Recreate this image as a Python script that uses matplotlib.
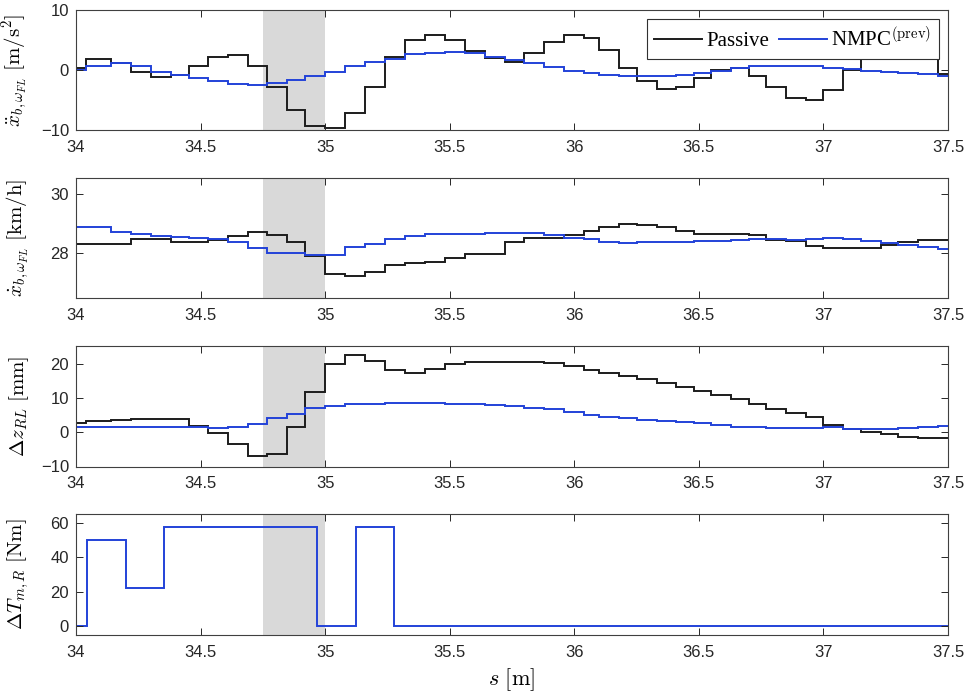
import matplotlib.pyplot as plt

plt.rcParams['font.family'] = ['Liberation Sans', 'DejaVu Sans']
plt.rcParams['mathtext.fontset'] = 'cm'

# step edges along the track [m] (shared by the first three signals)
s_edges = [34.00, 34.04, 34.14, 34.22, 34.30, 34.38, 34.455, 34.53, 34.61, 34.69,
           34.765, 34.845, 34.92, 35.00, 35.08, 35.16, 35.24, 35.32, 35.40, 35.48,
           35.56, 35.64, 35.72, 35.80, 35.88, 35.96, 36.04, 36.10, 36.18, 36.25,
           36.33, 36.41, 36.48, 36.55, 36.63, 36.70, 36.77, 36.85, 36.93, 37.00,
           37.08, 37.15, 37.23, 37.30, 37.38, 37.46, 37.50]

# longitudinal acceleration [m/s^2]
acc_passive = [0.3, 1.8, 1.1, -0.4, -1.2, -0.9, 0.7, 2.1, 2.5, 0.7,
               -2.9, -6.7, -9.4, -9.6, -7.1, -2.9, 2.1, 5.0, 5.9, 5.0,
               3.1, 2.0, 1.4, 2.9, 4.7, 5.8, 5.3, 3.3, 0.3, -1.9,
               -3.2, -2.9, -1.4, 0.0, 0.3, -1.0, -2.9, -4.7, -5.0, -3.3,
               0.0, 3.4, 3.8, 3.4, 2.2, -0.7]
acc_nmpc = [0.0, 0.6, 1.1, 0.6, -0.3, -0.8, -1.4, -1.9, -2.3, -2.5,
            -2.2, -1.7, -1.0, -0.3, 0.6, 1.4, 1.9, 2.6, 2.9, 3.05,
            2.9, 2.2, 1.7, 1.1, 0.5, -0.1, -0.5, -0.8, -1.0, -1.0,
            -1.0, -0.8, -0.5, -0.1, 0.3, 0.6, 0.7, 0.7, 0.6, 0.4,
            0.1, -0.1, -0.3, -0.5, -0.7, -1.0]

# speed [km/h]
vel_passive = [28.3, 28.3, 28.3, 28.48, 28.48, 28.36, 28.35, 28.42, 28.57, 28.69,
               28.6, 28.37, 27.88, 27.27, 27.2, 27.35, 27.58, 27.66, 27.69, 27.8,
               27.94, 27.97, 28.37, 28.49, 28.5, 28.6, 28.75, 28.88, 28.97, 28.96,
               28.86, 28.75, 28.64, 28.64, 28.64, 28.6, 28.42, 28.41, 28.23, 28.15,
               28.15, 28.17, 28.25, 28.35, 28.42, 28.43]
vel_nmpc = [28.86, 28.86, 28.7, 28.62, 28.57, 28.53, 28.51, 28.47, 28.37, 28.15,
            28.0, 28.0, 27.93, 27.93, 28.18, 28.3, 28.45, 28.58, 28.63, 28.64,
            28.65, 28.66, 28.68, 28.66, 28.6, 28.5, 28.45, 28.38, 28.34, 28.35,
            28.36, 28.37, 28.39, 28.41, 28.43, 28.45, 28.45, 28.44, 28.46, 28.49,
            28.45, 28.4, 28.34, 28.27, 28.2, 28.12]

# rear-left suspension deflection [mm]
dz_passive = [2.6, 3.4, 3.6, 3.8, 4.0, 3.8, 1.9, -0.1, -3.4, -6.8,
              -6.2, 1.5, 11.8, 20.0, 22.6, 20.8, 18.2, 17.3, 18.6, 20.1,
              20.6, 20.7, 20.6, 20.5, 20.2, 19.4, 18.2, 17.3, 16.5, 15.5,
              14.5, 13.2, 12.1, 10.9, 9.7, 8.3, 6.7, 5.6, 4.4, 2.3,
              0.9, 0.2, -0.5, -1.3, -1.6, -1.6]
dz_nmpc = [1.7, 1.7, 1.7, 1.6, 1.6, 1.5, 1.5, 1.2, 1.6, 2.5,
           4.2, 5.5, 7.0, 7.8, 8.2, 8.4, 8.5, 8.5, 8.5, 8.4,
           8.3, 8.0, 7.6, 7.2, 6.7, 6.0, 5.1, 4.6, 4.2, 3.6,
           3.2, 2.9, 2.6, 2.2, 1.7, 1.5, 1.3, 1.2, 1.3, 1.5,
           0.9, 1.0, 1.1, 1.3, 1.6, 1.9]

# rear torque difference [Nm]
torque_edges = [34.0, 34.046, 34.201, 34.353, 34.969, 35.122, 35.278, 37.5]
torque_nmpc = [0, 50, 22, 58, 0, 58, 0]

shade_start, shade_end = 34.75, 35.0
s_ticks = [34, 34.5, 35, 35.5, 36, 36.5, 37, 37.5]
s_tick_labels = ['34', '34.5', '35', '35.5', '36', '36.5', '37', '37.5']

BLACK = '#1c1c1c'
BLUE = '#2342d8'


def style_axis(ax, ylim, yticks, ylabel):
    ax.axvspan(shade_start, shade_end, color='#d9d9d9', lw=0, zorder=0)
    ax.set_xlim(34, 37.5)
    ax.set_ylim(*ylim)
    ax.set_yticks(yticks)
    ax.set_xticks(s_ticks)
    ax.set_xticklabels(s_tick_labels)
    ax.tick_params(direction='in', top=True, right=True, length=5, width=0.7,
                   labelsize=12, colors='#262626')
    ax.tick_params(axis='x', pad=7)
    ax.tick_params(axis='y', pad=5)
    for sp in ax.spines.values():
        sp.set_color('#404040')
        sp.set_linewidth(0.8)
    ax.set_ylabel(ylabel, fontsize=15)
    ax.yaxis.set_label_coords(-0.052, 0.5)


fig = plt.figure(figsize=(9.69, 6.96), dpi=100)
W, H = 969.0, 696.0
left, width = 76 / W, 872 / W
tops = [10, 178, 346, 514]
bottoms = [130, 298, 466.5, 635]
axes = [fig.add_axes([left, 1 - b / H, width, (b - t) / H]) for t, b in zip(tops, bottoms)]

ax1, ax2, ax3, ax4 = axes

h1 = ax1.stairs(acc_passive, s_edges, baseline=None, color=BLACK, lw=1.4, label='Passive')
h2 = ax1.stairs(acc_nmpc, s_edges, baseline=None, color=BLUE, lw=1.4,
                label=r'NMPC$^{\rm (prev)}$')
style_axis(ax1, (-10, 10), [-10, 0, 10], r'$\ddot{x}_{b,\omega_{FL}}\ [\mathrm{m/s^2}]$')
leg = ax1.legend(handles=[h1, h2], loc='upper right', ncol=2, fancybox=False,
                 framealpha=1, edgecolor='#303030', borderaxespad=0.45,
                 handlelength=2.3, columnspacing=0.5, handletextpad=0.2,
                 borderpad=0.35, prop={'family': 'Liberation Serif', 'size': 15})
leg.get_frame().set_linewidth(0.8)

ax2.stairs(vel_passive, s_edges, baseline=None, color=BLACK, lw=1.4)
ax2.stairs(vel_nmpc, s_edges, baseline=None, color=BLUE, lw=1.4)
style_axis(ax2, (26.45, 30.55), [28, 30], r'$\dot{x}_{b,\omega_{FL}}\ [\mathrm{km/h}]$')

ax3.stairs(dz_passive, s_edges, baseline=None, color=BLACK, lw=1.4)
ax3.stairs(dz_nmpc, s_edges, baseline=None, color=BLUE, lw=1.4)
style_axis(ax3, (-10, 25.3), [-10, 0, 10, 20], r'$\Delta z_{RL}\ [\mathrm{mm}]$')

ax4.stairs(torque_nmpc, torque_edges, baseline=None, color=BLUE, lw=1.4)
style_axis(ax4, (-5.3, 65.4), [0, 20, 40, 60], r'$\Delta T_{m,R}\ [\mathrm{Nm}]$')
ax4.set_xlabel(r'$s\ [\mathrm{m}]$', fontsize=16, labelpad=5)

fig.savefig('out.png', dpi=100, facecolor='white')
